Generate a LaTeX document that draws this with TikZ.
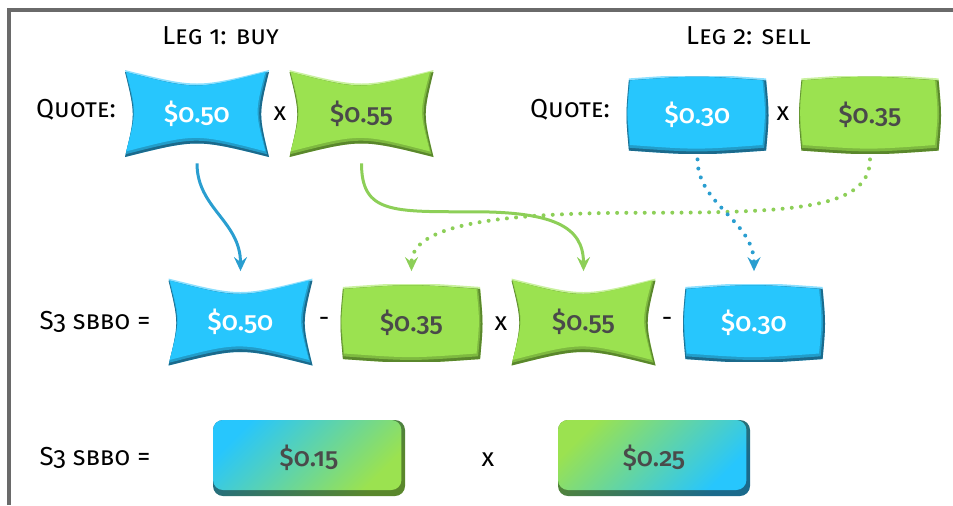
\documentclass[tikz,border=0pt]{standalone}
\usepackage{fontspec}
\setmainfont{Fira Sans}[Numbers=OldStyle]
\newfontfamily\pricefont{Fira Sans Medium}[Numbers=OldStyle]
\usetikzlibrary{arrows.meta,calc,positioning}

\definecolor{cblue}{HTML}{27C6FD}
\definecolor{cbluelt}{HTML}{8ADFFF}
\definecolor{cbluedk}{HTML}{1B6A8C}
\definecolor{cgreen}{HTML}{9BE250}
\definecolor{cgreenlt}{HTML}{C9F19E}
\definecolor{cgreendk}{HTML}{5A872C}
\definecolor{lineblue}{HTML}{2A9ED0}
\definecolor{linegreen}{HTML}{8DCF58}
\definecolor{pricegrey}{HTML}{4A4A4A}
\definecolor{framegrey}{HTML}{6A6A6A}

% outline of a cushion: corners (#1,#2) and (#3,#4), edges bent by #5/#6
\newcommand\cushpath[6]{%
  (#1,#4) .. controls ({(#1+#3)/2},{#4-2*(#6)}) .. (#3,#4)
  .. controls ({#3-2*(#5)},{(#2+#4)/2}) .. (#3,#2)
  .. controls ({(#1+#3)/2},{#2+2*(#6)}) .. (#1,#2)
  .. controls ({#1+2*(#5)},{(#2+#4)/2}) .. cycle}

\newcommand\cushfill[4]{%
  \fill[#1lt] let \p1=(path picture bounding box.south west),
      \p2=(path picture bounding box.north east) in
    \cushpath{\x1+#2}{\y1+#2}{\x2-#2}{\y2-#2}{#3}{#4};
  \fill[#1dk] let \p1=(path picture bounding box.south west),
      \p2=(path picture bounding box.north east) in
    \cushpath{\x1+#2}{\y1+#2}{\x2-#2}{\y2-#2-1pt}{#3}{#4};
  \fill[#1!55!#1dk] let \p1=(path picture bounding box.south west),
      \p2=(path picture bounding box.north east) in
    \cushpath{\x1+#2+0.3pt}{\y1+#2+1.4pt}{\x2-#2-1pt}{\y2-#2-1pt}{#3}{#4};
  \fill[#1] let \p1=(path picture bounding box.south west),
      \p2=(path picture bounding box.north east) in
    \cushpath{\x1+#2+0.6pt}{\y1+#2+2.8pt}{\x2-#2-1.8pt}{\y2-#2-1pt}{#3}{#4};
}

\tikzset{
  txt/.style={inner sep=0pt, font=\fontsize{13}{15}\selectfont},
  caps/.style={txt, font=\fontsize{13}{15}\selectfont\scshape},
  price/.style={inner sep=0pt, font=\pricefont\fontsize{13}{15}\selectfont},
  cave/.style={price, minimum width=72pt, minimum height=43.5pt,
    path picture={\cushfill{#1}{0pt}{2.6pt}{4.5pt}}},
  pillow/.style={price, minimum width=71pt, minimum height=38.5pt,
    path picture={\cushfill{#1}{1.2pt}{-0.8pt}{-1.2pt}}},
  grad/.style 2 args={price, minimum width=96pt, minimum height=38pt,
    rounded corners=5pt, text=pricegrey,
    path picture={
      \shade[top color=#1dk, bottom color=#2dk, shading angle=45]
        (path picture bounding box.south west) rectangle
        (path picture bounding box.north east);
      \shade[top color=#1, bottom color=#2, shading angle=45, rounded corners=5pt]
        let \p1=(path picture bounding box.south west),
            \p2=(path picture bounding box.north east) in
        (\x1,\y1+3pt) rectangle (\x2-1.8pt,\y2);
    }},
  flow/.style={line width=1.5pt, -{Stealth[length=7pt,width=6.5pt,inset=2.5pt]}},
  dots/.style={flow, line cap=round, dash pattern=on 0pt off 4.6pt, line width=2pt}
}

\begin{document}
\begin{tikzpicture}[x=0.5pt, y=-0.5pt]
\useasboundingbox (0,0) rectangle (953,505);
\draw[framegrey, line width=2pt] (9,505) |- (953,9.5);

% leg 1
\node[caps] (leg1) at (220.5,36) {Leg 1: buy};
\node[caps] (quote1) at (76,110) {Quote:};
\node[cave=cblue, text=white] (q1b) at (197,113.5) {\$0.50};
\node[cave=cgreen, text=pricegrey] (q1g) at (361.5,113.5) {\$0.55};
\node[txt] (times1) at (280,114) {x};

% leg 2
\node[caps] (leg2) at (748.5,36) {Leg 2: sell};
\node[caps] (quote2) at (570,110) {Quote:};
\node[pillow=cblue, text=white] (q2b) at (697.5,114.5) {\$0.30};
\node[pillow=cgreen, text=pricegrey] (q2g) at (870,114.5) {\$0.35};
\node[txt] (times2) at (783,114) {x};

% spread
\node[caps] (sbbo1) at (95,322) {S3 sbbo =};
\node[cave=cblue, text=white] (s1) at (240.5,322) {\$0.50};
\node[txt] (minus1) at (324,322) {-};
\node[pillow=cgreen, text=pricegrey] (s2) at (411.5,323) {\$0.35};
\node[txt] (times3) at (501,324) {x};
\node[cave=cgreen, text=pricegrey] (s3) at (583.5,322) {\$0.55};
\node[txt] (minus2) at (667,322) {-};
\node[pillow=cblue, text=white] (s4) at (754,323) {\$0.30};

% result
\node[caps] (sbbo2) at (95,458) {S3 sbbo =};
\node[grad={cblue}{cgreen}] (r1) at (309,458) {\$0.15};
\node[txt] (times4) at (488,460) {x};
\node[grad={cgreen}{cblue}] (r2) at (654,458) {\$0.25};

\draw[flow, lineblue] ([yshift=-3pt]q1b.south) .. controls +(0,45) and +(0,-50) .. ([yshift=3.5pt]s1.north);
\draw[flow, linegreen] ([yshift=-3pt]q1g.south) .. controls +(0,50) and +(-80,0) .. ($(q1g.south)!0.5!(s3.north)+(0,-6)$)
  .. controls +(80,0) and +(0,-45) .. ([yshift=3.5pt]s3.north);
\draw[dots, linegreen] ([yshift=-3pt]q2g.south) .. controls +(0,50) and +(150,0) .. ($(q2g.south)!0.5!(s2.north)+(0,-6)$)
  .. controls +(-150,0) and +(0,-45) .. ([yshift=6.5pt]s2.north);
\draw[dots, lineblue] ([yshift=-3pt]q2b.south) .. controls +(0,45) and +(0,-50) .. ([yshift=6.5pt]s4.north);
\end{tikzpicture}
\end{document}
